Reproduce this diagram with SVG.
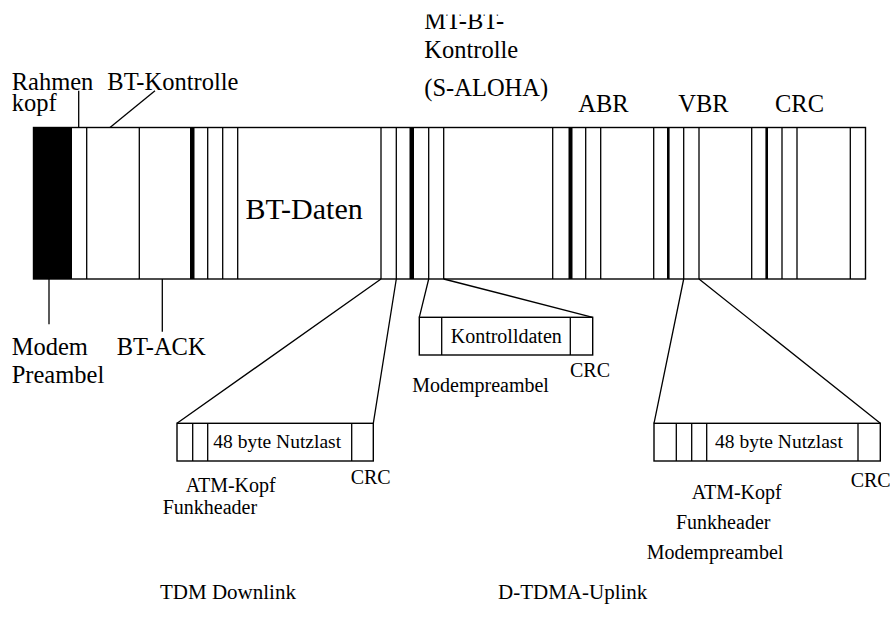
<svg xmlns="http://www.w3.org/2000/svg" width="890" height="621" viewBox="0 0 890 621">
<style>
.ln{stroke:#000;stroke-width:1.3;fill:none}
.box{stroke:#000;stroke-width:1.4;fill:#fff}
.big{font-family:"Liberation Serif","Times New Roman",serif;font-size:24.5px;fill:#000}
.sm{font-family:"Liberation Serif","Times New Roman",serif;font-size:20px;fill:#000}
.bar{fill:#000}
</style>
<defs>
<clipPath id="topclip"><rect x="0" y="14.5" width="890" height="30"/></clipPath>
</defs>
<rect width="890" height="621" fill="#fff"/>

<g id="frame">
<rect class="box" x="33.5" y="127.5" width="832" height="151.5"/>
<rect class="bar" x="33.5" y="127.5" width="38.5" height="151.5"/>
<rect class="bar" x="190" y="127.5" width="4.5" height="151.5"/>
<rect class="bar" x="409.5" y="127.5" width="4.5" height="151.5"/>
<rect class="bar" x="568.5" y="127.5" width="4" height="151.5"/>
<path class="ln" d="M86.7 127.5V279M139.3 127.5V279M207.7 127.5V279M222.7 127.5V279M237.7 127.5V279M381 127.5V279M396.3 127.5V279M428.7 127.5V279M443.7 127.5V279M552.7 127.5V279M585.7 127.5V279M600.7 127.5V279M653.7 127.5V279M683.7 127.5V279M699 127.5V279M751.7 127.5V279M782 127.5V279M797 127.5V279M850.3 127.5V279"/>
<path class="ln" style="stroke-width:2.6" d="M668.3 127.5V279M766.7 127.5V279"/>
<text class="big" x="245.5" y="219" style="font-size:30px">BT-Daten</text>
</g>

<g id="tdm-cell">
<rect class="box" x="177" y="423.3" width="196.3" height="37.7"/>
<path class="ln" d="M192.7 423.3V461M207.7 423.3V461M351.7 423.3V461"/>
<text class="sm" x="213.3" y="447.7" style="font-size:19.5px">48 byte Nutzlast</text>
</g>

<g id="control-cell">
<rect class="box" x="419.3" y="317.3" width="173.4" height="37.7"/>
<path class="ln" d="M441.7 317.3V355M570.3 317.3V355"/>
<text class="sm" x="450.7" y="342.7">Kontrolldaten</text>
</g>

<g id="uplink-cell">
<rect class="box" x="654" y="423.3" width="226.3" height="37.7"/>
<path class="ln" d="M676.3 423.3V461M691.7 423.3V461M706.7 423.3V461M858 423.3V461"/>
<text class="sm" x="715" y="447.7" style="font-size:19.5px">48 byte Nutzlast</text>
</g>

<g id="connectors">
<path class="ln" d="M78.7 90.7V127.5"/>
<path class="ln" d="M155 90.7L110 127.5"/>
<path class="ln" d="M49 279V324.3"/>
<path class="ln" d="M162.3 279V331.7"/>
<path class="ln" d="M381 279L177 423.3M396.3 279L373.3 423.3"/>
<path class="ln" d="M428.7 279L419.3 317.3M443.7 279L592.7 317.3"/>
<path class="ln" d="M683.7 279L654 423.3M699 279L880.3 423.3"/>
</g>

<g id="labels">
<text class="big" x="11.7" y="89.5">Rahmen</text>
<text class="big" x="11.7" y="111">kopf</text>
<text class="big" x="107.3" y="89.5">BT-Kontrolle</text>
<text class="big" x="424.3" y="29.3" clip-path="url(#topclip)">MT-BT-</text>
<text class="big" x="424.3" y="58">Kontrolle</text>
<text class="big" x="424.3" y="96">(S-ALOHA)</text>
<text class="big" x="578.3" y="112.3">ABR</text>
<text class="big" x="678.3" y="112.3">VBR</text>
<text class="big" x="775" y="112.3">CRC</text>
<text class="big" x="11.7" y="355">Modem</text>
<text class="big" x="11.7" y="383.3">Preambel</text>
<text class="big" x="116.7" y="355">BT-ACK</text>
<text class="sm" x="570" y="377.3">CRC</text>
<text class="sm" x="412.3" y="391.7">Modempreambel</text>
<text class="sm" x="350.7" y="484">CRC</text>
<text class="sm" x="185.7" y="491.7">ATM-Kopf</text>
<text class="sm" x="162.7" y="514">Funkheader</text>
<text class="sm" x="850.7" y="487.3">CRC</text>
<text class="sm" x="691.7" y="499.3">ATM-Kopf</text>
<text class="sm" x="676" y="529.3">Funkheader</text>
<text class="sm" x="646.7" y="559.3">Modempreambel</text>
<text class="sm" x="160" y="599" style="font-size:21px">TDM Downlink</text>
<text class="sm" x="498" y="599" style="font-size:21px">D-TDMA-Uplink</text>
</g>
</svg>
